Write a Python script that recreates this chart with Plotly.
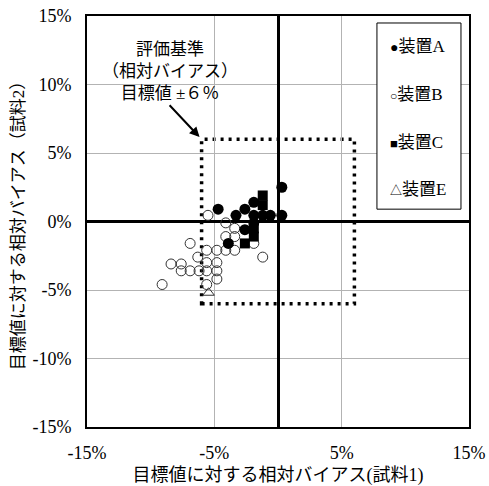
import plotly.graph_objects as go

# Data (percent)
a_x = [0.3, -4.7, -3.3, -2.6, -1.9, -1.9, -0.6, 0.3, -2.6, -1.9, -3.9, -1.2]
a_y = [2.5, 0.9, 0.45, 0.9, 1.4, 0.45, 0.45, 0.45, -0.6, -0.1, -1.6, 0.45]

b_x = [-5.5, -4.1, -3.4, -4.1, -3.4, -4.1, -3.4, -5.6, -4.8, -1.9, -1.2, -6.9,
       -6.3, -8.4, -7.6, -7.6, -6.9, -6.2, -5.6, -4.8, -4.8, -5.6, -4.8, -5.6, -9.1]
b_y = [0.45, -0.1, -0.5, -1.1, -1.1, -2.1, -2.1, -2.1, -2.1, -1.6, -2.6, -1.6,
       -2.6, -3.1, -3.1, -3.6, -3.6, -3.6, -3.0, -3.0, -3.6, -3.6, -4.2, -4.6, -4.6]

c_x = [-1.2, -1.2, -1.9, -1.9, -2.6]
c_y = [1.9, 1.2, -0.5, -1.1, -1.6]

e_x = [-5.45]
e_y = [-5.2]

crit = 6  # evaluation criterion ±6%

x_ticks = [-15, -5, 5, 15]
y_ticks = [-15, -10, -5, 0, 5, 10, 15]

legend_names = ["装置A", "装置B", "装置C", "装置E"]
legend_symbols = ["●", "○", "■", "△"]

serif = "Liberation Serif, Times New Roman, Noto Sans CJK JP, serif"

fig = go.Figure()
fig.add_trace(go.Scatter(x=b_x, y=b_y, mode="markers", name=legend_names[1],
                         showlegend=False,
                         marker=dict(symbol="circle-open", size=10, color="#333333",
                                     line=dict(width=1))))
fig.add_trace(go.Scatter(x=a_x, y=a_y, mode="markers", name=legend_names[0],
                         showlegend=False,
                         marker=dict(symbol="circle", size=11, color="black")))
fig.add_trace(go.Scatter(x=c_x, y=c_y, mode="markers", name=legend_names[2],
                         showlegend=False,
                         marker=dict(symbol="square", size=10, color="black")))
fig.add_trace(go.Scatter(x=e_x, y=e_y, mode="markers", name=legend_names[3],
                         showlegend=False,
                         marker=dict(symbol="triangle-up-open", size=10, color="#333333",
                                     line=dict(width=1))))

# dotted criterion box
fig.add_shape(type="rect", x0=-crit, x1=crit, y0=-crit, y1=crit, layer="below",
              line=dict(color="black", width=3.5, dash="3px,5px"))

# legend box
fig.add_shape(type="rect", xref="paper", yref="paper", x0=0.759, x1=0.979,
              y0=0.530, y1=0.983, line=dict(color="black", width=1),
              fillcolor="white", layer="above")
leg_y = [0.9246, 0.810, 0.693, 0.577]
leg_sizes = [14, 12, 13, 12]
for sym, nm, yy, ss in zip(legend_symbols, legend_names, leg_y, leg_sizes):
    fig.add_annotation(x=0.788, y=yy, xref="paper", yref="paper", showarrow=False,
                       xanchor="left", yanchor="middle",
                       text=f"<span style='font-size:{ss}px'>{sym}</span>{nm}",
                       font=dict(family=serif, size=17, color="black"))

fig.add_annotation(x=-crit, y=crit, xref="x", yref="y",
                   text="評価基準<br>（相対バイアス）<br>目標値 ±６％",
                   showarrow=True, arrowhead=2, arrowsize=1, arrowwidth=2,
                   arrowcolor="black", ax=-32, ay=-34, standoff=3,
                   font=dict(family=serif, size=17, color="black"),
                   yanchor="bottom")

fig.update_xaxes(range=[-15, 15], tickvals=x_ticks,
                 ticktext=[f"{v}%" for v in x_ticks], automargin=False,
                 ticklabeloverflow="allow",
                 showgrid=True, gridcolor="#b3b3b3", gridwidth=1,
                 zeroline=True, zerolinecolor="black", zerolinewidth=2.5,
                 showline=True, mirror=True, linecolor="black", linewidth=2,
                 ticks="", ticklabelstandoff=8,
                 tickfont=dict(family=serif, size=18, color="black"),
                 title=dict(text="目標値に対する相対バイアス(試料1)", standoff=17,
                            font=dict(family=serif, size=18, color="black")))
fig.update_yaxes(range=[-15, 15], tickvals=y_ticks,
                 ticktext=[f"{v}%" for v in y_ticks], automargin=False,
                 ticklabeloverflow="allow",
                 showgrid=True, gridcolor="#b3b3b3", gridwidth=1,
                 zeroline=True, zerolinecolor="black", zerolinewidth=2.5,
                 showline=True, mirror=True, linecolor="black", linewidth=2,
                 ticks="", ticklabelstandoff=10,
                 tickfont=dict(family=serif, size=18, color="black"),
                 title=dict(text="目標値に対する相対バイアス（試料2）", standoff=3,
                            font=dict(family=serif, size=17, color="black")))

fig.update_layout(
    width=489, height=486,
    margin=dict(l=87, r=20, t=16, b=59),
    plot_bgcolor="white", paper_bgcolor="white",
    showlegend=False,
)

# remove the page's default body margin so the figure sits at the window origin
fig.write_html("out.html", config={"displayModeBar": False},
               post_script="document.body.style.margin='0';document.body.style.overflow='hidden';")
